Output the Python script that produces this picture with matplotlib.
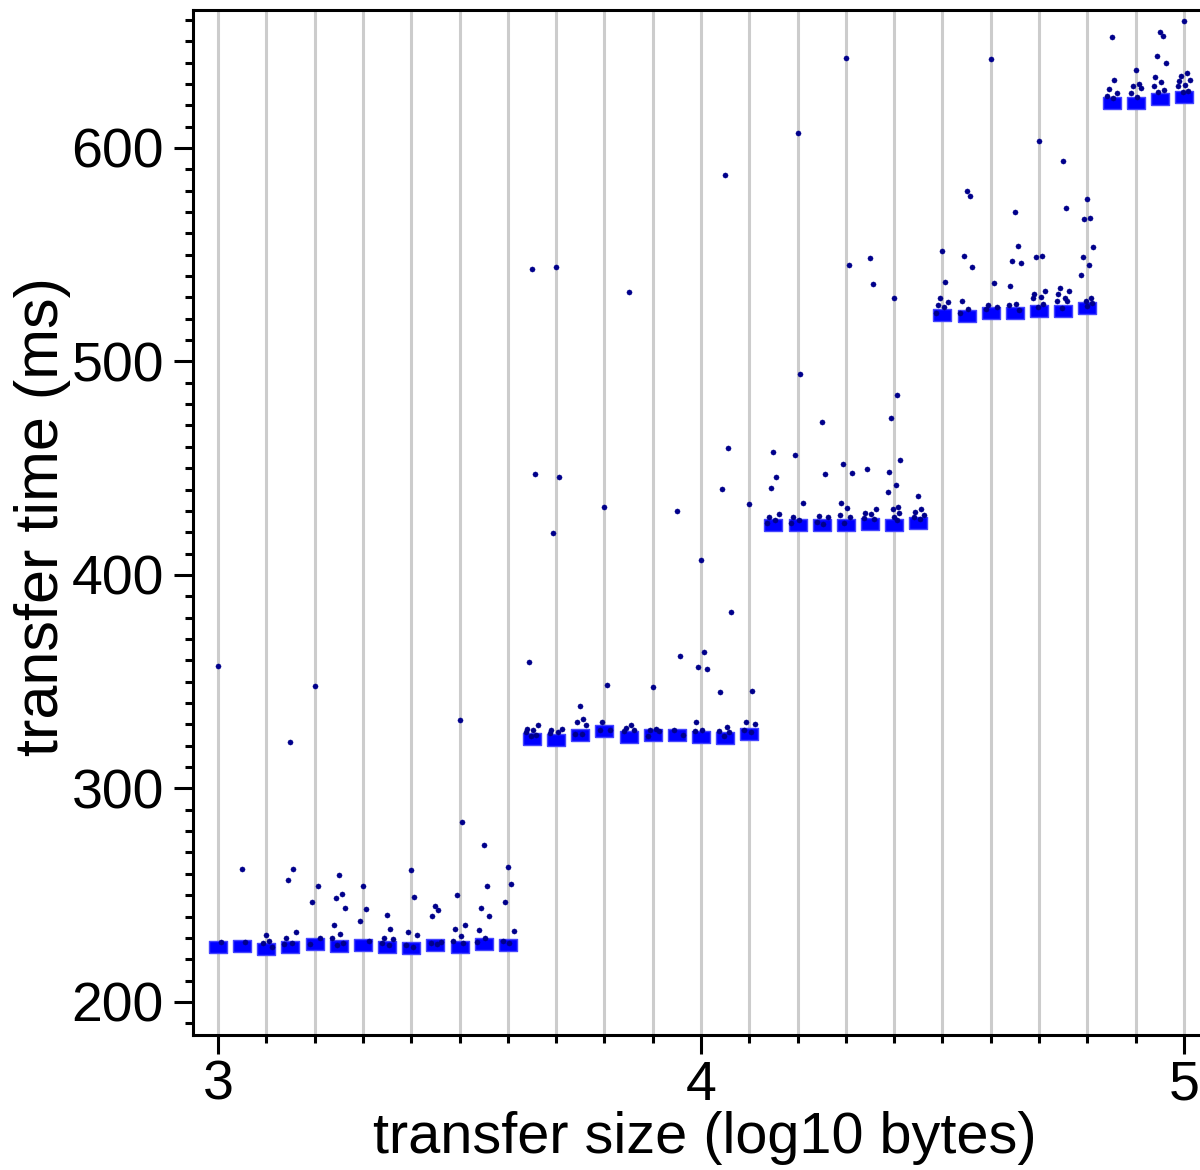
import numpy as np
import matplotlib
matplotlib.use('Agg')
from matplotlib import pyplot as plt
from matplotlib.ticker import MultipleLocator

plt.rcParams['font.family'] = ['Liberation Sans', 'DejaVu Sans']

# transfer sizes (log10 bytes)
sizes = [3.00, 3.05, 3.10, 3.15, 3.20, 3.25, 3.30, 3.35, 3.40, 3.45, 3.50, 3.55, 3.60,
         3.65, 3.70, 3.75, 3.80, 3.85, 3.90, 3.95, 4.00, 4.05, 4.10,
         4.15, 4.20, 4.25, 4.30, 4.35, 4.40, 4.45,
         4.50, 4.55, 4.60, 4.65, 4.70, 4.75, 4.80,
         4.85, 4.90, 4.95, 5.00]

# typical transfer time (ms) for each size
medians = [225.9, 226.2, 225.0, 225.6, 227.0, 226.4, 226.7, 225.9, 225.4, 226.6, 225.8, 227.2, 226.8,
           323.2, 322.7, 324.9, 326.9, 324.2, 324.9, 325.1, 323.9, 323.4, 325.3,
           423.4, 423.5, 423.4, 423.2, 423.8, 423.5, 424.1,
           521.9, 521.4, 522.8, 522.8, 523.5, 523.5, 525.2,
           620.9, 620.9, 622.8, 624.0]

# individual slower transfers (ms) for each size
outliers = [
    [357.4, 228.0],
    [262.1, 227.9],
    [231.4, 228.6, 227.5, 225.6],
    [321.8, 262.3, 257.2, 232.9, 229.9, 227.5, 227.1],
    [348.0, 254.3, 246.8, 229.8, 227.3],
    [259.3, 250.7, 248.7, 244.2, 235.9, 232.0, 229.9, 227.7, 226.5],
    [254.1, 243.5, 238.1, 228.4],
    [240.8, 234.1, 229.9, 229.4, 227.7, 226.8],
    [261.8, 249.0, 232.8, 231.3, 226.5, 225.6],
    [245.1, 243.2, 240.4, 228.1, 227.5, 227.1],
    [332.1, 284.3, 250.2, 235.9, 234.3, 231.0, 228.7, 227.5],
    [273.4, 254.3, 244.2, 240.1, 233.7, 230.1, 228.1],
    [263.4, 255.4, 246.7, 233.0, 228.7, 227.7],
    [543.3, 447.3, 359.4, 329.9, 328.0, 327.4, 326.6, 325.1, 324.7],
    [544.3, 445.9, 419.7, 328.0, 327.2, 326.3, 326.1],
    [338.6, 332.3, 330.9, 329.7, 325.7, 325.4],
    [431.9, 348.4, 331.3, 327.4, 327.4],
    [532.6, 329.5, 328.5, 327.4, 326.9],
    [347.4, 327.7, 327.2, 326.9, 324.5],
    [430.0, 362.2, 327.2, 324.8],
    [407.0, 363.8, 356.8, 355.8, 330.9, 327.2, 326.9],
    [587.4, 459.5, 440.3, 382.7, 345.3, 328.8, 326.9, 326.3, 324.7],
    [433.0, 345.8, 331.2, 330.4, 327.5, 326.4],
    [457.6, 445.7, 440.7, 428.7, 427.0, 425.5, 424.5],
    [607.0, 494.1, 456.2, 433.7, 427.3, 425.8, 424.5],
    [471.7, 447.5, 427.6, 427.3, 425.0, 423.9],
    [642.0, 545.2, 452.0, 447.8, 433.9, 431.4, 428.1, 427.0, 424.2],
    [548.5, 536.3, 449.5, 431.1, 429.2, 428.6, 426.7, 426.1],
    [529.7, 484.1, 473.5, 453.9, 448.2, 442.3, 438.9, 432.0, 430.8, 428.9, 427.0, 425.8],
    [436.9, 430.8, 429.7, 428.1, 427.3, 426.1],
    [551.8, 537.2, 529.9, 527.9, 526.6, 525.5, 522.9],
    [579.8, 577.4, 549.6, 544.4, 528.2, 524.4, 522.9],
    [641.7, 536.7, 526.2, 525.5, 524.7],
    [569.8, 554.0, 546.8, 545.9, 535.1, 526.9, 526.4, 524.1],
    [603.3, 549.6, 549.1, 533.2, 531.8, 530.2, 529.5, 526.7, 525.5],
    [593.9, 572.0, 534.3, 533.1, 531.6, 529.9, 528.3, 528.3, 524.9],
    [576.0, 567.4, 566.8, 553.7, 548.7, 545.0, 540.3, 529.9, 528.4, 527.2, 526.0],
    [652.1, 632.0, 627.8, 625.9, 624.4, 623.4],
    [636.4, 630.0, 629.0, 627.9, 625.6, 623.8],
    [654.5, 652.6, 643.0, 640.0, 633.0, 630.9, 628.8, 627.2, 626.4],
    [659.3, 635.0, 633.9, 632.0, 631.2, 629.7, 628.8, 626.8, 626.1],
]

# small horizontal spread so overlapping dots stay visible
spread = [0.000, 0.006, -0.006, 0.012, -0.010, 0.003, -0.013, 0.008, -0.003, 0.010]

fig = plt.figure(figsize=(12, 11.7), dpi=100)
ax = fig.add_axes([193 / 1200, 135 / 1170, 1019 / 1200, 1025 / 1170])

rect = [(-1, -0.6), (1, -0.6), (1, 0.6), (-1, 0.6), (-1, -0.6)]
ax.plot(sizes, medians, ls='none', marker=rect, ms=13.5, mfc='#0000ff',
        mec='#4444ff', mew=1, zorder=3)

for s, vals in zip(sizes, outliers):
    xs = [s + spread[i % len(spread)] for i in range(len(vals))]
    ax.plot(xs, vals, ls='none', marker='o', ms=3.7, mfc='#00008b',
            mec='#00008b', mew=0.3, zorder=4)

ax.set_xlim(2.9482, 5.058)
ax.set_ylim(184.5, 664.6)
ax.xaxis.set_major_locator(MultipleLocator(1))
ax.xaxis.set_minor_locator(MultipleLocator(0.1))
ax.yaxis.set_major_locator(MultipleLocator(100))
ax.yaxis.set_minor_locator(MultipleLocator(10))
ax.set_yticks([200, 300, 400, 500, 600])
ax.grid(which='both', axis='x', color='#cccccc', lw=2.2, zorder=0)
ax.set_axisbelow(True)

for sp in ['left', 'bottom', 'top']:
    ax.spines[sp].set_linewidth(2.2)
ax.spines['right'].set_visible(False)

ax.tick_params(which='major', length=14, width=2.2, labelsize=40, pad=7)
ax.tick_params(which='minor', length=6, width=2.2)
ax.tick_params(axis='x', which='major', pad=4)

ax.set_xlabel('transfer size (log10 bytes)', fontsize=41.5)
ax.set_ylabel('transfer time (ms)', fontsize=44, va='center')
ax.xaxis.set_label_coords(0.502, -0.074)
ax.yaxis.set_label_coords(-0.148, 0.506)

fig.savefig('out.png', dpi=100)
